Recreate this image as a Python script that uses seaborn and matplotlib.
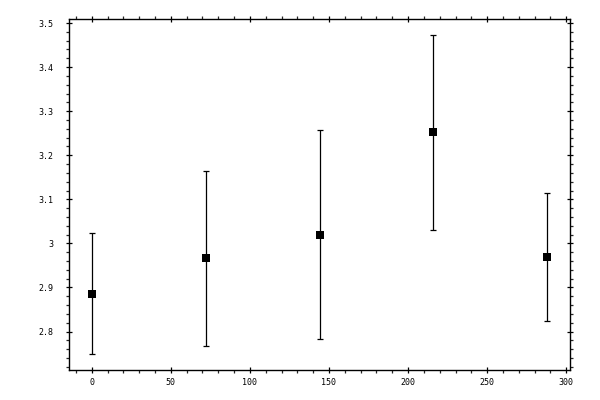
import matplotlib
matplotlib.use("Agg")
import matplotlib.pyplot as plt
import matplotlib.ticker as mticker
import pandas as pd
import seaborn as sns

# values
x_vals = [0, 72, 144, 216, 288]
means = [2.886, 2.966, 3.020, 3.252, 2.970]
errs = [0.137, 0.198, 0.237, 0.221, 0.145]

df = pd.DataFrame({'x': x_vals, 'mean': means, 'err': errs})

sns.set_style("ticks")
plt.rcParams['font.family'] = ['DejaVu Sans Mono']

fig = plt.figure(figsize=(6, 4), dpi=100)
ax = fig.add_axes([0.115, 0.075, 0.835, 0.8775])

ax.errorbar(df['x'], df['mean'], yerr=df['err'], fmt='none', ecolor='black',
            elinewidth=0.9, capsize=2.0, capthick=0.9)
sns.scatterplot(data=df, x='x', y='mean', marker='s', color='black', s=30,
                edgecolor='black', linewidth=0, ax=ax, zorder=3)

ax.set_xlim(-14.4, 302.4)
ax.set_ylim(2.7128, 3.5092)
ax.set_xlabel('')
ax.set_ylabel('')

ax.xaxis.set_major_locator(mticker.MultipleLocator(50))
ax.xaxis.set_minor_locator(mticker.MultipleLocator(10))
ax.yaxis.set_major_locator(mticker.MultipleLocator(0.1))
ax.yaxis.set_minor_locator(mticker.MultipleLocator(0.02))
ax.yaxis.set_major_formatter(mticker.FuncFormatter(lambda v, p: f'{v:g}'))

for side in ['top', 'right', 'left', 'bottom']:
    ax.spines[side].set_visible(True)
    ax.spines[side].set_linewidth(1.0)
    ax.spines[side].set_color('black')

ax.tick_params(which='major', direction='inout', length=5, width=0.9,
               top=True, right=True, labelsize=6, colors='black')
ax.tick_params(axis='y', which='major', pad=8.5)
ax.tick_params(axis='x', which='major', pad=3.5)
ax.tick_params(which='minor', direction='out', length=2.5, width=0.9,
               top=True, right=True)

fig.savefig('out.png', dpi=100)
